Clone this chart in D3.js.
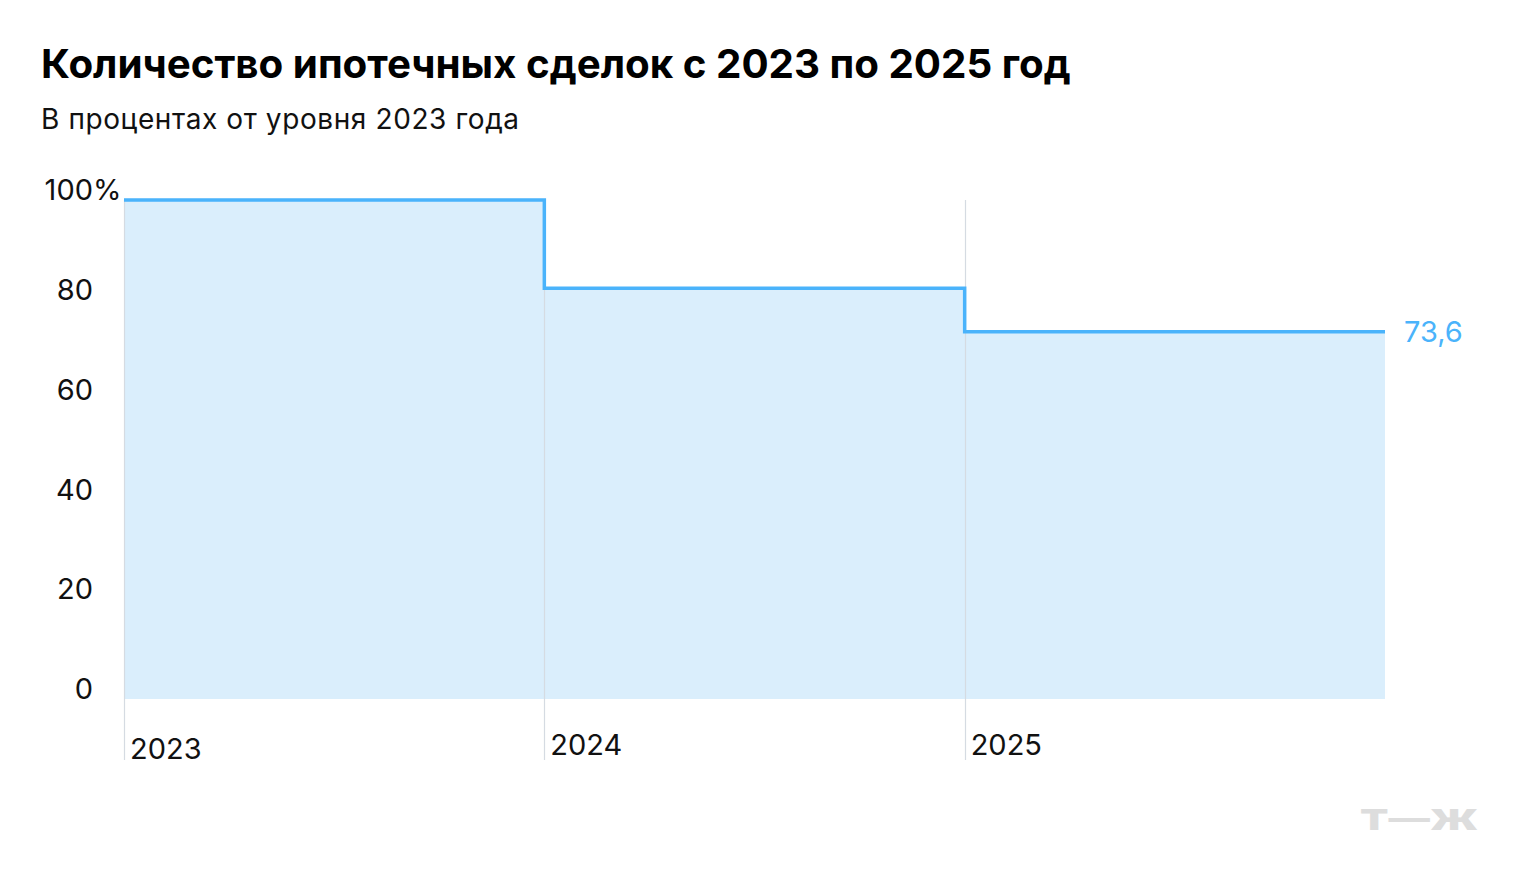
<!DOCTYPE html>
<html><head><meta charset="utf-8">
<script src="https://cdn.jsdelivr.net/npm/d3@7"></script>
<style>
html,body{margin:0;padding:0;background:#fff;}
svg{display:block;font-family:Inter,Roboto,"Noto Sans",sans-serif;}
</style></head>
<body>
<svg id="c" width="1520" height="890"></svg>
<script>
const years = [2023, 2024, 2025];
const yearLabels = ["2023", "2024", "2025"];
const values = [100, 82.3, 73.6];
const endYear = 2026;
const yTicks = [0, 20, 40, 60, 80, 100];
const lastLabel = "73,6";
const title = "Количество ипотечных сделок с 2023 по 2025 год";
const subtitle = "В процентах от уровня 2023 года";

const svg = d3.select("#c");
const x = d3.scaleLinear().domain([2023, endYear]).range([124, 1385]);
const y = d3.scaleLinear().domain([0, 100]).range([699, 200]);

svg.append("text").attr("x", 41).attr("y", 78)
  .attr("font-size", 40.3).attr("font-weight", 700).attr("fill", "#000")
  .text(title);
svg.append("text").attr("x", 41).attr("y", 129)
  .attr("font-size", 28).attr("letter-spacing", 0.6).attr("fill", "#111").text(subtitle);

const pts = years.map((yr, i) => ({x: yr, v: values[i]}));
pts.push({x: endYear, v: values[values.length - 1]});

svg.append("path").datum(pts)
  .attr("d", d3.area().curve(d3.curveStepAfter).x(d => x(d.x)).y0(y(0)).y1(d => y(d.v)))
  .attr("fill", "#daeefc");

// vertical gridlines
svg.selectAll("line.g").data(years).join("line")
  .attr("x1", d => Math.round(x(d)) + 0.5).attr("x2", d => Math.round(x(d)) + 0.5)
  .attr("y1", y(100)).attr("y2", 760)
  .attr("stroke", "#d5dbe2").attr("stroke-width", 1.2);

svg.append("path").datum(pts)
  .attr("d", d3.line().curve(d3.curveStepAfter).x(d => x(d.x)).y(d => y(d.v)))
  .attr("fill", "none").attr("stroke", "#4ab3fb").attr("stroke-width", 3.5);

// y tick labels
svg.selectAll("text.yt").data(yTicks).join("text")
  .attr("x", 93).attr("y", d => y(d) - 10).attr("dy", "0.35em")
  .attr("text-anchor", "end").attr("font-size", 29).attr("fill", "#111")
  .text(d => d);
svg.append("text").attr("x", 93).attr("y", y(100) - 10).attr("dy", "0.35em")
  .attr("font-size", 29).attr("fill", "#111").text("%");

// x labels
svg.selectAll("text.xt").data(years).join("text")
  .attr("x", d => x(d) + 6).attr("y", (d, i) => i === 0 ? 759 : 755)
  .attr("font-size", 29).attr("fill", "#111")
  .text((d, i) => yearLabels[i]);

// last value label
svg.append("text").attr("x", 1404).attr("y", y(values[2])).attr("dy", "0.35em")
  .attr("font-size", 29).attr("fill", "#4ab3fb").text(lastLabel);

// logo
svg.append("text").attr("x", 1360).attr("y", 830)
  .attr("font-size", 28).attr("font-weight", 900).attr("fill", "#dddddd")
  .attr("textLength", 118).attr("lengthAdjust", "spacingAndGlyphs")
  .text("Т—Ж");
</script>
</body></html>
